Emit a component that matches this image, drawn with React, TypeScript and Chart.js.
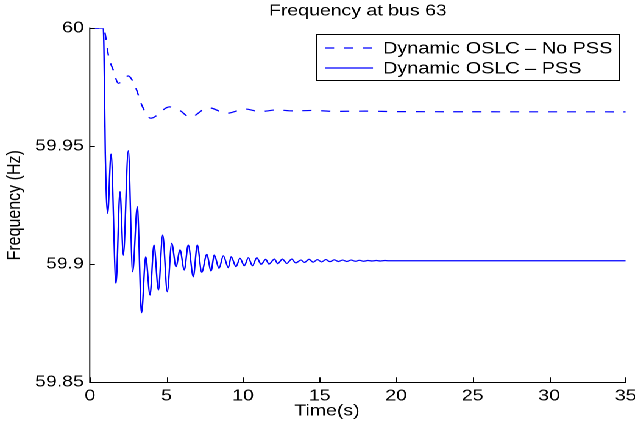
import React, { useEffect, useRef } from "react";
import { Chart, registerables } from "chart.js";

Chart.register(...registerables);

const chartTitle = "Frequency at bus 63";
const xAxisTitle = "Time(s)";
const yAxisTitle = "Frequency (Hz)";
const seriesNames = ["Dynamic OSLC – No PSS", "Dynamic OSLC – PSS"];

const xTicks = [0, 5, 10, 15, 20, 25, 30, 35];
const yTicks = [59.85, 59.9, 59.95, 60];

const timeNoPss = [0, 0.87, 0.98, 1.22, 1.52, 1.85, 2.5, 3.0, 3.38, 3.97, 5.2, 5.88, 6.54, 7.73, 8.93, 10.13, 11.1, 12.2, 13.3, 14.5, 16, 18, 20, 35];
const freqNoPss = [60, 60, 59.998, 59.988, 59.9823, 59.9767, 59.9798, 59.9746, 59.9675, 59.9619, 59.9667, 59.9651, 59.9623, 59.9664, 59.964, 59.9658, 59.9647, 59.9654, 59.965, 59.9652, 59.9648, 59.9649, 59.9647, 59.9646];

const timePss = [
  0, 0.87, 0.98, 1.0, 1.157, 1.373, 1.699, 1.961, 2.18, 2.5, 2.79, 3.09, 3.37, 3.64,
  3.92, 4.18, 4.47, 4.75, 5.05, 5.34, 5.62, 5.88, 6.16, 6.42,
  6.75, 7.01, 7.3, 7.63, 7.91, 8.12, 8.43, 8.71, 9.04, 9.22,
  9.54, 9.8, 10.08, 10.35, 10.61, 10.9, 11.18, 11.48, 11.69, 12.05,
  12.27, 12.57, 12.86, 13.18, 13.44, 13.79, 14.01, 14.31, 14.58, 14.86,
  15.13, 15.41, 15.68, 15.96, 16.23, 16.51, 16.78, 17.06, 17.33, 17.61,
  17.88, 18.16, 18.43, 18.71, 18.98, 19.26, 19.5, 35,
];
const freqPss = [
  60, 60, 59.957, 59.947, 59.9216, 59.9467, 59.8919, 59.9308, 59.9039, 59.9481, 59.8969, 59.9244, 59.8795, 59.9032,
  59.887, 59.9082, 59.8891, 59.9124, 59.8884, 59.9089, 59.899, 59.9061, 59.8976, 59.9082,
  59.8947, 59.9082, 59.8966, 59.9042, 59.8972, 59.9039, 59.8983, 59.9036, 59.8986, 59.9032,
  59.899, 59.9025, 59.8994, 59.9028, 59.8994, 59.9028, 59.9, 59.9021, 59.9001, 59.9022,
  59.9003, 59.9022, 59.9004, 59.9022, 59.9006, 59.9018, 59.9008, 59.9021, 59.9009, 59.902,
  59.901, 59.902, 59.9011, 59.9019, 59.9012, 59.9018, 59.9012, 59.9018, 59.9013, 59.9017,
  59.9013, 59.9016, 59.9014, 59.9016, 59.9014, 59.9016, 59.9015, 59.9015,
];

const W = 521;
const H = 430;
const STRETCH = 635 / W;
const FONT = "'Liberation Sans', Arial, Helvetica, sans-serif";
const BLUE = "#0000ff";
const DASH = [7.5, 8];

export default function App() {
  const ref = useRef<HTMLCanvasElement>(null);

  useEffect(() => {
    const canvas = ref.current;
    if (!canvas) return;

    const overlay = {
      id: "overlay",
      afterDraw(chart: any) {
        const { ctx, chartArea } = chart;
        const xs = chart.scales.x;
        const ys = chart.scales.y;
        ctx.save();
        // inward tick marks
        ctx.strokeStyle = "#000";
        ctx.lineWidth = 1;
        ctx.setLineDash([]);
        ctx.beginPath();
        xTicks.forEach((v) => {
          const p = Math.round(xs.getPixelForValue(v)) + 0.5;
          ctx.moveTo(p, chartArea.bottom);
          ctx.lineTo(p, chartArea.bottom - 5);
        });
        yTicks.forEach((v) => {
          const p = Math.round(ys.getPixelForValue(v)) + 0.5;
          ctx.moveTo(chartArea.left, p);
          ctx.lineTo(chartArea.left + 4, p);
        });
        ctx.stroke();

        // titles
        ctx.fillStyle = "#000";
        ctx.font = `16px ${FONT}`;
        ctx.textAlign = "center";
        ctx.textBaseline = "middle";
        ctx.fillText(chartTitle, (chartArea.left + chartArea.right) / 2, 11);
        ctx.fillText(xAxisTitle, 327 / STRETCH, 411);
        ctx.save();
        ctx.translate(15 / STRETCH, (chartArea.top + chartArea.bottom) / 2);
        ctx.rotate(-Math.PI / 2);
        ctx.fillText(yAxisTitle, 0, 0);
        ctx.restore();

        // legend box
        const left = Math.round(316 / STRETCH) + 0.5;
        const right = Math.round(619 / STRETCH) + 0.5;
        const top = 34.5;
        const bottom = 80.5;
        ctx.fillStyle = "#fff";
        ctx.fillRect(left, top, right - left, bottom - top);
        ctx.strokeStyle = "#000";
        ctx.lineWidth = 1;
        ctx.strokeRect(left, top, right - left, bottom - top);
        const rows = [top + 13.5, top + 33.5];
        const sx0 = 325 / STRETCH;
        const sx1 = 373 / STRETCH;
        ctx.strokeStyle = BLUE;
        ctx.lineWidth = 1.2;
        ctx.setLineDash(DASH);
        ctx.beginPath();
        ctx.moveTo(sx0, rows[0]);
        ctx.lineTo(sx1, rows[0]);
        ctx.stroke();
        ctx.setLineDash([]);
        ctx.beginPath();
        ctx.moveTo(sx0, rows[1]);
        ctx.lineTo(sx1, rows[1]);
        ctx.stroke();
        ctx.fillStyle = "#000";
        ctx.font = `16.3px ${FONT}`;
        ctx.textAlign = "left";
        ctx.fillText(seriesNames[0], 383 / STRETCH, rows[0] + 1);
        ctx.fillText(seriesNames[1], 383 / STRETCH, rows[1] + 1);
        ctx.restore();
      },
    };

    const tickFont = { family: FONT, size: 16 };

    const chart = new Chart(canvas, {
      type: "line",
      data: {
        datasets: [
          {
            label: seriesNames[0],
            data: timeNoPss.map((t, i) => ({ x: t, y: freqNoPss[i] })),
            borderColor: BLUE,
            borderWidth: 1.2,
            borderDash: DASH,
            pointRadius: 0,
            cubicInterpolationMode: "monotone",
            fill: false,
          },
          {
            label: seriesNames[1],
            data: timePss.map((t, i) => ({ x: t, y: freqPss[i] })),
            borderColor: BLUE,
            borderWidth: 1.2,
            pointRadius: 0,
            cubicInterpolationMode: "monotone",
            fill: false,
          },
        ],
      },
      options: {
        animation: false,
        responsive: false,
        devicePixelRatio: 2,
        layout: { padding: { top: 28.3, right: W - 625.7 / STRETCH, left: 0, bottom: 0 } },
        plugins: {
          legend: { display: false },
          title: { display: false },
          tooltip: { enabled: false },
        },
        scales: {
          x: {
            type: "linear",
            min: 0,
            max: 35,
            afterBuildTicks: (s: any) => {
              s.ticks = xTicks.map((v) => ({ value: v }));
            },
            afterFit: (s: any) => {
              s.height = H - 382.3;
              s.paddingLeft = 0;
              s.paddingRight = 0;
            },
            ticks: {
              font: tickFont,
              color: "#000",
              padding: 4,
              maxRotation: 0,
              autoSkip: false,
              callback: (v: any) => String(v),
            },
            grid: { display: false, drawTicks: false },
            border: { display: true, color: "#000", width: 1 },
          },
          y: {
            type: "linear",
            min: 59.85,
            max: 60,
            afterBuildTicks: (s: any) => {
              s.ticks = yTicks.map((v) => ({ value: v }));
            },
            afterFit: (s: any) => {
              s.width = 90 / STRETCH;
              s.paddingTop = 0;
              s.paddingBottom = 0;
            },
            ticks: {
              font: tickFont,
              color: "#000",
              padding: 5,
              autoSkip: false,
              callback: (v: any) => String(v),
            },
            grid: { display: false, drawTicks: false },
            border: { display: true, color: "#555", width: 1.2 },
          },
        },
      },
      plugins: [overlay],
    });

    return () => chart.destroy();
  }, []);

  return (
    <div
      style={{
        position: "absolute",
        left: 0,
        top: 0,
        width: W,
        height: H,
        transform: `scaleX(${STRETCH})`,
        transformOrigin: "0 0",
        background: "#fff",
      }}
    >
      <canvas ref={ref} width={W} height={H} style={{ width: W, height: H, display: "block" }} />
    </div>
  );
}
